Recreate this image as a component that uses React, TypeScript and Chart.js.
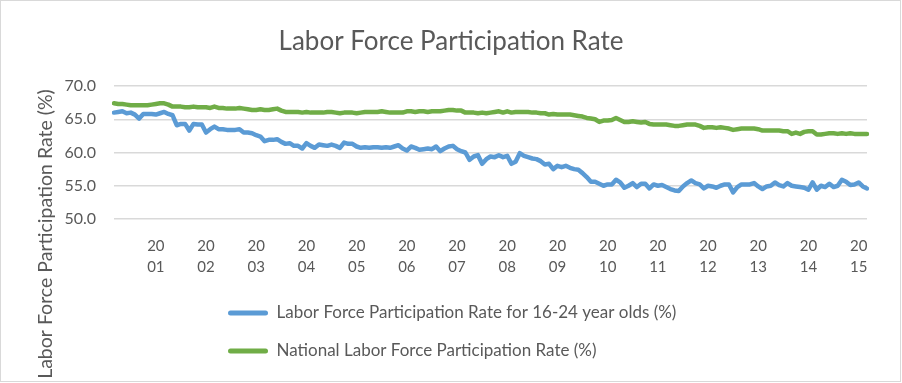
import React, { useEffect, useRef } from "react";
import { Chart, registerables } from "chart.js";

Chart.register(...registerables);

const startYear = 2000;
const startMonth = 3;
const monthCount = 181;

const months: string[] = [];
for (let k = 0; k < monthCount; k++) {
  const t = startMonth - 1 + k;
  const y = startYear + Math.floor(t / 12);
  const m = (t % 12) + 1;
  months.push(`${y}-${m < 10 ? "0" + m : m}`);
}

const youthRate: number[] = [
  66.0, 66.1, 66.2, 65.9, 66.0, 65.7, 65.1, 65.8, 65.8, 65.8,
  65.7, 65.9, 66.1, 65.8, 65.6, 64.1, 64.3, 64.3, 63.3, 64.3,
  64.2, 64.2, 63.0, 63.5, 63.9, 63.5, 63.5, 63.4, 63.4, 63.4,
  63.5, 63.0, 63.0, 62.9, 62.6, 62.4, 61.7, 61.9, 61.9, 62.0,
  61.6, 61.3, 61.4, 61.0, 61.0, 60.6, 61.4, 61.0, 60.7, 61.2,
  61.1, 61.0, 61.2, 61.0, 60.7, 61.5, 61.3, 61.3, 60.9, 60.7,
  60.8, 60.7, 60.8, 60.8, 60.7, 60.8, 60.7, 60.9, 61.1, 60.6,
  60.3, 60.9, 60.7, 60.4, 60.5, 60.6, 60.5, 60.9, 60.2, 60.6,
  60.9, 61.0, 60.5, 60.2, 60.0, 58.9, 59.4, 59.6, 58.3, 59.0,
  59.4, 59.3, 59.6, 59.3, 59.5, 58.3, 58.6, 59.9, 59.5, 59.3,
  59.1, 59.0, 58.7, 58.2, 58.3, 57.5, 58.0, 57.8, 58.0, 57.7,
  57.5, 57.4, 56.9, 56.3, 55.6, 55.6, 55.3, 55.0, 55.2, 55.2,
  55.9, 55.5, 54.7, 55.0, 55.4, 54.8, 55.3, 55.3, 54.6, 55.2,
  55.0, 55.1, 54.8, 54.5, 54.3, 54.2, 54.9, 55.4, 55.8, 55.4,
  55.2, 54.6, 55.0, 54.9, 54.7, 55.0, 55.2, 55.2, 54.0, 54.8,
  55.2, 55.2, 55.2, 55.4, 54.9, 54.5, 54.9, 55.0, 55.5, 55.1,
  54.9, 55.4, 55.0, 54.9, 54.8, 54.7, 54.4, 55.5, 54.4, 55.0,
  54.8, 55.3, 54.8, 55.0, 55.9, 55.6, 55.1, 55.2, 55.5, 54.9, 54.6,
];

const nationalRate: number[] = [
  67.4, 67.3, 67.3, 67.2, 67.1, 67.1, 67.1, 67.1, 67.1, 67.2,
  67.3, 67.4, 67.4, 67.2, 66.9, 66.9, 66.9, 66.8, 66.8, 66.9,
  66.8, 66.8, 66.8, 66.7, 66.9, 66.7, 66.7, 66.6, 66.6, 66.6,
  66.7, 66.6, 66.5, 66.4, 66.4, 66.5, 66.4, 66.4, 66.5, 66.6,
  66.3, 66.1, 66.1, 66.1, 66.1, 66.0, 66.1, 66.0, 66.0, 66.0,
  66.0, 66.1, 66.1, 66.0, 65.9, 66.0, 66.0, 66.0, 65.9, 66.0,
  66.1, 66.1, 66.1, 66.1, 66.2, 66.1, 66.0, 66.0, 66.0, 66.0,
  66.2, 66.2, 66.1, 66.2, 66.2, 66.1, 66.2, 66.2, 66.2, 66.3,
  66.4, 66.4, 66.3, 66.3, 66.0, 66.0, 66.0, 65.9, 66.0, 65.9,
  66.0, 66.1, 66.2, 66.0, 66.2, 66.0, 66.1, 66.1, 66.1, 66.1,
  66.0, 66.0, 65.9, 65.9, 65.7, 65.8, 65.7, 65.7, 65.7, 65.7,
  65.6, 65.5, 65.4, 65.2, 65.1, 65.0, 64.6, 64.8, 64.8, 64.9,
  65.2, 64.9, 64.6, 64.6, 64.7, 64.6, 64.5, 64.6, 64.3, 64.2,
  64.2, 64.2, 64.2, 64.1, 64.0, 64.0, 64.1, 64.2, 64.2, 64.2,
  64.0, 63.7, 63.8, 63.8, 63.7, 63.8, 63.7, 63.6, 63.4, 63.5,
  63.6, 63.6, 63.6, 63.6, 63.5, 63.3, 63.3, 63.3, 63.3, 63.3,
  63.2, 63.2, 62.8, 63.0, 62.8, 63.1, 63.2, 63.2, 62.7, 62.7,
  62.8, 62.9, 62.9, 62.8, 62.9, 62.8, 62.9, 62.8, 62.8, 62.8, 62.8,
];

const seriesLabels = [
  "Labor Force Participation Rate for 16-24 year olds (%)",
  "National Labor Force Participation Rate (%)",
];
const chartTitle = "Labor Force Participation Rate";
const yAxisTitle = "Labor Force Participation Rate (%)";
const yMin = 50;
const yMax = 70;
const yStep = 5;

const FONT = "Lato";
const TEXT = "#595959";
const BLUE = "#5B9BD5";
const GREEN = "#70AD47";
const GRID = "#D9D9D9";

export default function App() {
  const ref = useRef<HTMLCanvasElement>(null);

  useEffect(() => {
    if (!ref.current) return;
    const framePlugin = {
      id: "frame",
      beforeDraw(chart: any) {
        const ctx = chart.ctx;
        ctx.save();
        ctx.fillStyle = "#ffffff";
        ctx.fillRect(0, 0, chart.width, chart.height);
        ctx.strokeStyle = GRID;
        ctx.lineWidth = 1;
        ctx.strokeRect(0.5, 0.5, 900, 381);
        ctx.restore();
      },
      afterLayout(chart: any) {
        const lg = chart.legend;
        if (lg) {
          const w = lg.width;
          lg.left = 207;
          lg.right = 207 + w;
        }
        const tb = chart.titleBlock;
        if (tb) {
          tb.left = 0;
          tb.right = 902;
        }
      },
      afterDraw(chart: any) {
        const ctx = chart.ctx;
        ctx.save();
        ctx.translate(45.5, 234);
        ctx.rotate(-Math.PI / 2);
        ctx.font = `19.5px ${FONT}`;
        ctx.fillStyle = TEXT;
        ctx.textAlign = "center";
        ctx.textBaseline = "middle";
        ctx.fillText(yAxisTitle, 0, 0);
        ctx.restore();
      },
    };

    const chart = new Chart(ref.current, {
      type: "line",
      data: {
        labels: months,
        datasets: [
          {
            label: seriesLabels[0],
            data: youthRate,
            borderColor: BLUE,
            backgroundColor: BLUE,
            borderWidth: 4.5,
            pointRadius: 0,
            tension: 0,
            borderJoinStyle: "round",
            borderCapStyle: "round",
          },
          {
            label: seriesLabels[1],
            data: nationalRate,
            borderColor: GREEN,
            backgroundColor: GREEN,
            borderWidth: 4.5,
            pointRadius: 0,
            tension: 0,
            borderJoinStyle: "round",
            borderCapStyle: "round",
          },
        ],
      },
      options: {
        responsive: false,
        animation: false,
        layout: { padding: { left: 0, right: 35, top: 0, bottom: 13.5 } },
        plugins: {
          title: {
            display: true,
            text: chartTitle,
            color: TEXT,
            font: { family: FONT, size: 26, weight: "normal" },
            padding: { top: 26.4, bottom: 28.4 },
          },
          legend: {
            position: "bottom",
            align: "start",
            fullSize: false,
            labels: {
              color: TEXT,
              font: { family: FONT, size: 17 },
              boxWidth: 40,
              boxHeight: 5,
              padding: 21,
              useBorderRadius: true,
              borderRadius: 2.5,
              generateLabels: (c: any) =>
                Chart.defaults.plugins.legend.labels
                  .generateLabels(c)
                  .map((l: any) => ({ ...l, lineWidth: 0 })),
            },
          },
          tooltip: { enabled: false },
        },
        scales: {
          x: {
            type: "category",
            offset: false,
            grid: { display: false, drawTicks: false },
            border: { display: false },
            ticks: {
              autoSkip: false,
              maxRotation: 0,
              minRotation: 0,
              padding: 16,
              color: TEXT,
              font: { family: FONT, size: 15, lineHeight: 1.45 },
              callback: (_v: any, i: number) => {
                const m = months[i];
                return m && m.endsWith("-01") ? [m.slice(0, 2), m.slice(2, 4)] : "";
              },
            },
            afterFit: (s: any) => {
              s.height = 64.5;
            },
          },
          y: {
            min: yMin,
            max: yMax,
            grid: { color: GRID, lineWidth: 1.5, drawTicks: false },
            border: { display: false },
            ticks: {
              stepSize: yStep,
              padding: 18,
              color: TEXT,
              font: { family: FONT, size: 16 },
              callback: (v: any) => Number(v).toFixed(1),
            },
            afterFit: (s: any) => {
              s.width = 114;
            },
          },
        },
      },
      plugins: [framePlugin],
    } as any);
    return () => chart.destroy();
  }, []);

  return (
    <div style={{ position: "fixed", left: 0, top: 0, width: 902, height: 383 }}>
      <canvas ref={ref} width={902} height={383} style={{ display: "block" }} />
    </div>
  );
}
